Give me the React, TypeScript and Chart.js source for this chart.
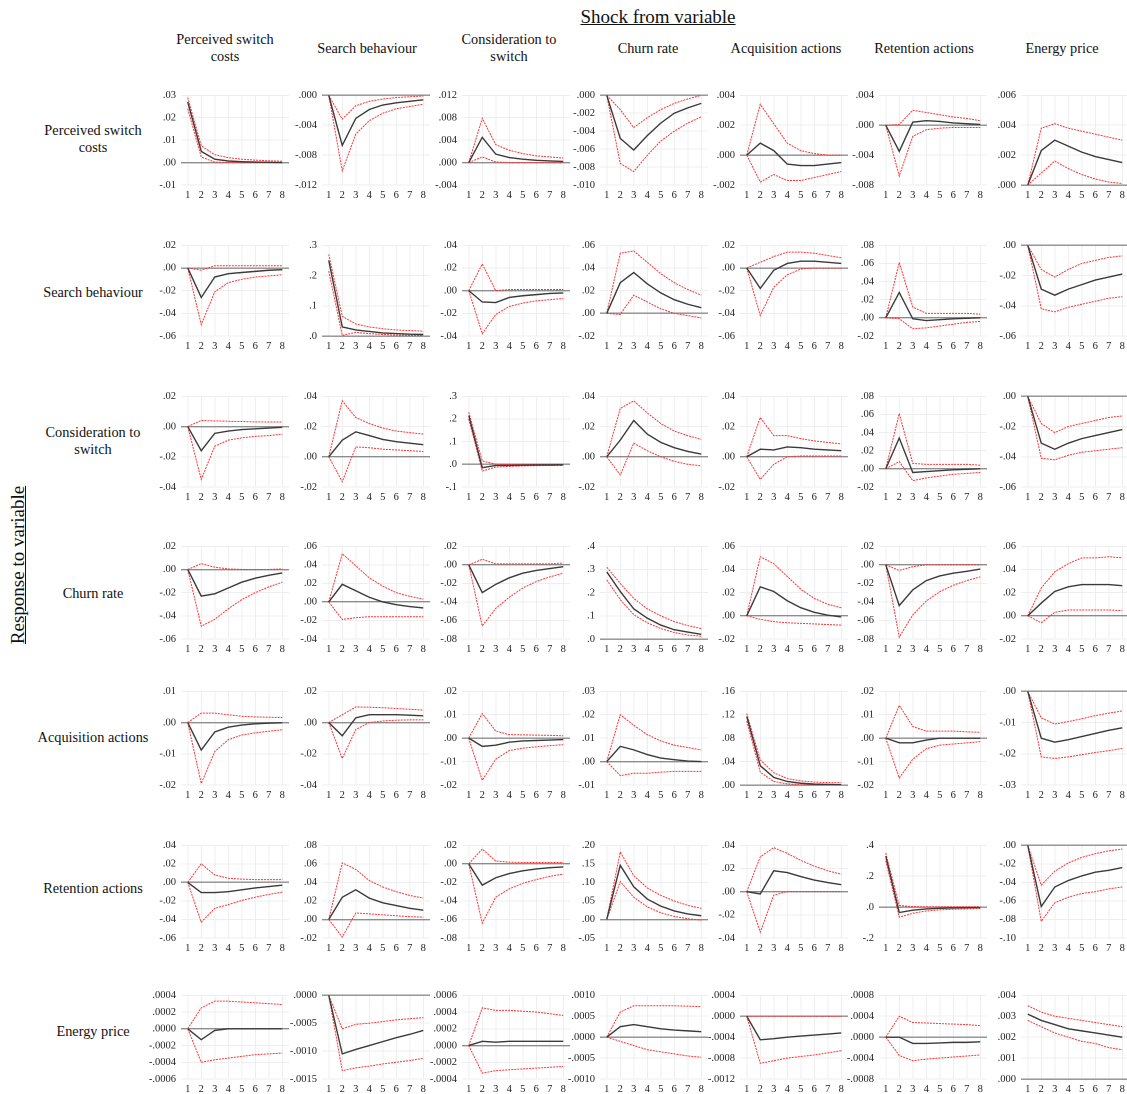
import React, { useEffect, useRef } from 'react';
import { Chart, registerables } from 'chart.js';
Chart.register(...registerables);

const periods = ['1', '2', '3', '4', '5', '6', '7', '8'];
const colHeaders = ['Perceived switch\ncosts', 'Search behaviour', 'Consideration to\nswitch', 'Churn rate', 'Acquisition actions', 'Retention actions', 'Energy price'];
const rowHeaders = ['Perceived switch\ncosts', 'Search behaviour', 'Consideration to\nswitch', 'Churn rate', 'Acquisition actions', 'Retention actions', 'Energy price'];

// axis specs per panel: [max, min, step, decimals]
const r1Axis = [[0.03, -0.01, 0.01, 2], [0, -0.012, 0.004, 3], [0.012, -0.004, 0.004, 3], [0, -0.01, 0.002, 3], [0.004, -0.002, 0.002, 3], [0.004, -0.008, 0.004, 3], [0.006, 0, 0.002, 3]];
const r2Axis = [[0.02, -0.06, 0.02, 2], [0.3, 0, 0.1, 1], [0.04, -0.04, 0.02, 2], [0.06, -0.02, 0.02, 2], [0.02, -0.06, 0.02, 2], [0.08, -0.02, 0.02, 2], [0, -0.06, 0.02, 2]];
const r3Axis = [[0.02, -0.04, 0.02, 2], [0.04, -0.02, 0.02, 2], [0.3, -0.1, 0.1, 1], [0.04, -0.02, 0.02, 2], [0.04, -0.02, 0.02, 2], [0.08, -0.02, 0.02, 2], [0, -0.06, 0.02, 2]];
const r4Axis = [[0.02, -0.06, 0.02, 2], [0.06, -0.04, 0.02, 2], [0.02, -0.08, 0.02, 2], [0.4, 0, 0.1, 1], [0.06, -0.02, 0.02, 2], [0.02, -0.08, 0.02, 2], [0.06, -0.02, 0.02, 2]];
const r5Axis = [[0.01, -0.02, 0.01, 2], [0.02, -0.04, 0.02, 2], [0.02, -0.02, 0.01, 2], [0.03, -0.01, 0.01, 2], [0.16, 0, 0.04, 2], [0.02, -0.02, 0.01, 2], [0, -0.03, 0.01, 2]];
const r6Axis = [[0.04, -0.06, 0.02, 2], [0.08, -0.02, 0.02, 2], [0.02, -0.08, 0.02, 2], [0.2, -0.05, 0.05, 2], [0.04, -0.04, 0.02, 2], [0.4, -0.2, 0.2, 1], [0, -0.1, 0.02, 2]];
const r7Axis = [[0.0004, -0.0006, 0.0002, 4], [0, -0.0015, 0.0005, 4], [0.0006, -0.0004, 0.0002, 4], [0.001, -0.001, 0.0005, 4], [0.0004, -0.0012, 0.0004, 4], [0.0008, -0.0008, 0.0004, 4], [0.004, 0, 0.001, 3]];

// Row 1: response of Perceived switch costs
const r1Irf = [
  [0.027, 0.005, 0.0015, 0.0007, 0.0004, 0.0002, 0.0001, 0.0],
  [0, -0.0067, -0.0031, -0.0019, -0.0013, -0.001, -0.0008, -0.0006],
  [0, 0.0045, 0.0015, 0.0009, 0.0006, 0.0004, 0.0003, 0.0002],
  [0, -0.0048, -0.0061, -0.0045, -0.0031, -0.002, -0.0014, -0.0009],
  [0, 0.0008, 0.0003, -0.0006, -0.0007, -0.0007, -0.0006, -0.0005],
  [0, -0.0035, 0.0004, 0.0006, 0.0005, 0.0003, 0.0002, 0.0001],
  [0, 0.0023, 0.003, 0.0026, 0.0022, 0.0019, 0.0017, 0.0015],
];
const r1Hi = [
  [0.029, 0.0075, 0.0035, 0.0022, 0.0015, 0.0011, 0.0008, 0.0006],
  [0, -0.0032, -0.0014, -0.0008, -0.0005, -0.0003, -0.0002, -0.0001],
  [0, 0.0079, 0.0032, 0.0022, 0.0016, 0.0012, 0.001, 0.0008],
  [0, -0.0016, -0.0036, -0.0025, -0.0016, -0.0009, -0.0004, 0],
  [0, 0.0034, 0.0021, 0.0008, 0.0003, 0.0001, 0, 0],
  [0, 0.0001, 0.002, 0.0017, 0.0014, 0.0011, 0.0009, 0.0006],
  [0, 0.0038, 0.0041, 0.0038, 0.0036, 0.0034, 0.0032, 0.003],
];
const r1Lo = [
  [0.024, 0.0025, 0.0002, 0, 0, 0, 0, 0],
  [0, -0.0101, -0.0052, -0.0034, -0.0024, -0.0018, -0.0015, -0.0012],
  [0, 0.001, 0.0001, 0, 0, 0, 0, 0],
  [0, -0.0076, -0.0085, -0.0067, -0.0051, -0.004, -0.0031, -0.0024],
  [0, -0.0018, -0.0013, -0.0017, -0.0017, -0.0015, -0.0013, -0.0011],
  [0, -0.0068, -0.0015, -0.0006, -0.0004, -0.0003, -0.0003, -0.0003],
  [0, 0.0008, 0.0016, 0.0011, 0.0007, 0.0004, 0.0002, 0.0001],
];

// Row 2: response of Search behaviour
const r2Irf = [
  [0, -0.026, -0.008, -0.005, -0.004, -0.003, -0.002, -0.0015],
  [0.25, 0.03, 0.02, 0.015, 0.01, 0.008, 0.006, 0.005],
  [0, -0.01, -0.0105, -0.006, -0.0045, -0.0035, -0.0025, -0.002],
  [0, 0.027, 0.036, 0.026, 0.018, 0.012, 0.008, 0.005],
  [0, -0.018, -0.002, 0.004, 0.006, 0.006, 0.005, 0.004],
  [0, 0.028, -0.001, -0.003, -0.002, -0.001, -0.0005, 0],
  [0, -0.029, -0.033, -0.029, -0.026, -0.023, -0.021, -0.019],
];
const r2Hi = [
  [0, -0.002, 0.002, 0.002, 0.002, 0.002, 0.002, 0.002],
  [0.27, 0.065, 0.04, 0.03, 0.024, 0.02, 0.018, 0.016],
  [0, 0.0235, 0, 0.001, 0.001, 0.001, 0.001, 0.001],
  [0, 0.053, 0.055, 0.045, 0.035, 0.027, 0.021, 0.016],
  [0, 0.005, 0.01, 0.014, 0.014, 0.013, 0.011, 0.009],
  [0, 0.061, 0.012, 0.005, 0.005, 0.005, 0.005, 0.004],
  [0, -0.016, -0.021, -0.016, -0.012, -0.01, -0.008, -0.007],
];
const r2Lo = [
  [0, -0.05, -0.021, -0.013, -0.01, -0.008, -0.007, -0.006],
  [0.215, 0.002, 0.012, 0.008, 0.005, 0.003, 0.002, 0.002],
  [0, -0.038, -0.021, -0.014, -0.011, -0.009, -0.008, -0.007],
  [0, -0.001, 0.016, 0.01, 0.004, 0, -0.002, -0.004],
  [0, -0.042, -0.017, -0.006, -0.001, 0, 0, 0],
  [0, -0.001, -0.012, -0.011, -0.009, -0.007, -0.005, -0.004],
  [0, -0.042, -0.044, -0.041, -0.039, -0.037, -0.035, -0.034],
];

// Row 3: response of Consideration to switch
const r3Irf = [
  [0, -0.016, -0.0045, -0.003, -0.002, -0.0015, -0.001, -0.0005],
  [0, 0.011, 0.0165, 0.014, 0.0115, 0.01, 0.009, 0.008],
  [0.215, -0.015, -0.005, -0.005, -0.004, -0.003, -0.003, -0.002],
  [0, 0.011, 0.024, 0.015, 0.0095, 0.006, 0.0035, 0.0018],
  [0, 0.005, 0.0045, 0.0065, 0.006, 0.005, 0.0045, 0.004],
  [0, 0.034, -0.004, -0.003, -0.002, -0.001, -0.0005, 0],
  [0, -0.031, -0.035, -0.031, -0.028, -0.026, -0.024, -0.022],
];
const r3Hi = [
  [0, 0.004, 0.0037, 0.0035, 0.0033, 0.0031, 0.003, 0.003],
  [0, 0.037, 0.026, 0.022, 0.019, 0.017, 0.016, 0.015],
  [0.23, 0.015, 0.001, -0.001, -0.001, -0.001, 0, 0],
  [0, 0.032, 0.037, 0.029, 0.022, 0.017, 0.014, 0.0115],
  [0, 0.026, 0.014, 0.014, 0.012, 0.0105, 0.0095, 0.0085],
  [0, 0.061, 0.006, 0.005, 0.005, 0.005, 0.005, 0.004],
  [0, -0.018, -0.024, -0.02, -0.018, -0.016, -0.014, -0.013],
];
const r3Lo = [
  [0, -0.035, -0.013, -0.009, -0.0075, -0.0065, -0.006, -0.005],
  [0, -0.0165, 0.0065, 0.006, 0.005, 0.0045, 0.004, 0.0035],
  [0.2, -0.03, -0.012, -0.009, -0.007, -0.006, -0.005, -0.005],
  [0, -0.012, 0.009, 0.004, 0, -0.003, -0.005, -0.006],
  [0, -0.015, -0.005, 0, 0.0005, 0.0005, 0.0005, 0.0005],
  [0, 0.008, -0.013, -0.01, -0.008, -0.006, -0.005, -0.004],
  [0, -0.041, -0.042, -0.039, -0.037, -0.036, -0.035, -0.034],
];

// Row 4: response of Churn rate
const r4Irf = [
  [0, -0.023, -0.021, -0.016, -0.011, -0.0075, -0.005, -0.003],
  [0, 0.019, 0.012, 0.005, 0, -0.003, -0.005, -0.0065],
  [0, -0.03, -0.021, -0.014, -0.009, -0.006, -0.004, -0.002],
  [0.29, 0.205, 0.13, 0.09, 0.06, 0.04, 0.03, 0.02],
  [0, 0.025, 0.021, 0.013, 0.007, 0.003, 0.0005, -0.001],
  [0, -0.044, -0.027, -0.017, -0.012, -0.009, -0.007, -0.0045],
  [0, 0.011, 0.021, 0.025, 0.027, 0.027, 0.027, 0.026],
];
const r4Hi = [
  [0, 0.005, 0.002, 0.0005, 0, 0, 0, 0.0005],
  [0, 0.052, 0.039, 0.026, 0.017, 0.01, 0.006, 0.003],
  [0, 0.006, 0.001, 0.001, 0.001, 0.001, 0.001, 0.002],
  [0.31, 0.24, 0.175, 0.13, 0.1, 0.075, 0.058, 0.045],
  [0, 0.051, 0.045, 0.034, 0.023, 0.015, 0.01, 0.007],
  [0, -0.006, -0.002, 0, 0, 0, 0, 0],
  [0, 0.024, 0.038, 0.045, 0.05, 0.05, 0.051, 0.05],
];
const r4Lo = [
  [0, -0.049, -0.043, -0.034, -0.026, -0.02, -0.015, -0.011],
  [0, -0.019, -0.017, -0.016, -0.016, -0.016, -0.016, -0.016],
  [0, -0.066, -0.047, -0.035, -0.025, -0.018, -0.013, -0.009],
  [0.255, 0.17, 0.105, 0.07, 0.045, 0.028, 0.017, 0.012],
  [0, -0.003, -0.005, -0.006, -0.0065, -0.007, -0.0075, -0.008],
  [0, -0.078, -0.054, -0.039, -0.029, -0.022, -0.017, -0.013],
  [0, -0.006, 0.003, 0.005, 0.005, 0.005, 0.005, 0.0045],
];

// Row 5: response of Acquisition actions
const r5Irf = [
  [0, -0.0088, -0.003, -0.0015, -0.0008, -0.0004, -0.0002, -0.0001],
  [0, -0.0085, 0.003, 0.005, 0.005, 0.005, 0.0047, 0.0043],
  [0, -0.0035, -0.003, -0.0017, -0.0012, -0.001, -0.0008, -0.0006],
  [0, 0.0065, 0.005, 0.003, 0.0015, 0.0008, 0.0002, 0],
  [0.117, 0.033, 0.013, 0.006, 0.003, 0.0015, 0.001, 0.0005],
  [0, -0.002, -0.002, -0.0008, 0, 0, 0, 0],
  [0, -0.015, -0.0163, -0.0155, -0.0145, -0.0135, -0.0125, -0.0117],
];
const r5Hi = [
  [0, 0.003, 0.003, 0.0025, 0.002, 0.0018, 0.0017, 0.0016],
  [0, 0.005, 0.01, 0.0098, 0.0095, 0.009, 0.0085, 0.008],
  [0, 0.0105, 0.003, 0.0015, 0.0014, 0.0013, 0.0012, 0.001],
  [0, 0.02, 0.0155, 0.0115, 0.0088, 0.007, 0.006, 0.005],
  [0.122, 0.043, 0.021, 0.011, 0.007, 0.005, 0.004, 0.004],
  [0, 0.014, 0.005, 0.003, 0.003, 0.003, 0.0027, 0.0025],
  [0, -0.0085, -0.0105, -0.0097, -0.0088, -0.0078, -0.007, -0.0063],
];
const r5Lo = [
  [0, -0.0195, -0.0093, -0.0055, -0.004, -0.0033, -0.0028, -0.0023],
  [0, -0.023, -0.0045, 0, 0.001, 0.0015, 0.0017, 0.0017],
  [0, -0.018, -0.009, -0.0053, -0.0043, -0.0037, -0.0032, -0.0028],
  [0, -0.006, -0.005, -0.005, -0.0045, -0.0042, -0.0042, -0.0042],
  [0.109, 0.022, 0.006, 0.002, 0.0005, 0, 0, 0],
  [0, -0.017, -0.009, -0.0045, -0.003, -0.0025, -0.002, -0.0015],
  [0, -0.021, -0.0215, -0.021, -0.0203, -0.0196, -0.019, -0.0183],
];

// Row 6: response of Retention actions
const r6Irf = [
  [0, -0.011, -0.011, -0.01, -0.008, -0.006, -0.0045, -0.003],
  [0, 0.024, 0.032, 0.023, 0.018, 0.015, 0.012, 0.01],
  [0, -0.023, -0.015, -0.0105, -0.0075, -0.0055, -0.0042, -0.0033],
  [0, 0.146, 0.088, 0.055, 0.036, 0.023, 0.015, 0.01],
  [0, -0.002, 0.018, 0.0165, 0.013, 0.01, 0.0078, 0.006],
  [0.33, -0.035, -0.02, -0.012, -0.008, -0.005, -0.004, -0.003],
  [0, -0.066, -0.045, -0.038, -0.033, -0.029, -0.027, -0.024],
];
const r6Hi = [
  [0, 0.02, 0.008, 0.0045, 0.0035, 0.003, 0.003, 0.003],
  [0, 0.061, 0.054, 0.042, 0.035, 0.03, 0.026, 0.023],
  [0, 0.016, 0.003, 0.0018, 0.0015, 0.0015, 0.0015, 0.0015],
  [0, 0.182, 0.118, 0.085, 0.065, 0.05, 0.038, 0.03],
  [0, 0.03, 0.038, 0.033, 0.027, 0.022, 0.018, 0.015],
  [0.35, 0.01, 0.003, 0.002, 0.002, 0.002, 0.002, 0.002],
  [0, -0.043, -0.028, -0.019, -0.013, -0.009, -0.006, -0.004],
];
const r6Lo = [
  [0, -0.043, -0.028, -0.024, -0.0195, -0.016, -0.013, -0.0105],
  [0, -0.019, 0.007, 0.006, 0.005, 0.004, 0.003, 0.0025],
  [0, -0.064, -0.036, -0.027, -0.021, -0.017, -0.0135, -0.011],
  [0, 0.102, 0.06, 0.034, 0.018, 0.008, 0.002, -0.002],
  [0, -0.035, -0.003, 0, 0, 0, 0, 0],
  [0.3, -0.065, -0.04, -0.025, -0.018, -0.014, -0.012, -0.01],
  [0, -0.082, -0.062, -0.056, -0.052, -0.05, -0.047, -0.045],
];

// Row 7: response of Energy price
const r7Irf = [
  [0, -0.00013, -0.00002, 0, 0, 0, 0, 0],
  [0, -0.00105, -0.00097, -0.0009, -0.00083, -0.00076, -0.0007, -0.00063],
  [0, 0.00005, 0.00004, 0.00005, 0.00005, 0.00005, 0.00005, 0.00005],
  [0, 0.00025, 0.0003, 0.00025, 0.0002, 0.00017, 0.00015, 0.00013],
  [0, -0.00045, -0.00043, -0.0004, -0.00038, -0.00036, -0.00034, -0.00032],
  [0, 0, -0.00012, -0.00012, -0.00011, -0.0001, -0.0001, -0.00009],
  [0.0031, 0.0028, 0.0026, 0.0024, 0.0023, 0.0022, 0.0021, 0.002],
];
const r7Hi = [
  [0, 0.00025, 0.00033, 0.00033, 0.00032, 0.00031, 0.0003, 0.00029],
  [0, -0.0006, -0.00052, -0.0005, -0.00047, -0.00044, -0.00042, -0.0004],
  [0, 0.00045, 0.00042, 0.00042, 0.00041, 0.0004, 0.00038, 0.00036],
  [0, 0.0006, 0.00075, 0.00075, 0.00075, 0.00075, 0.00074, 0.00073],
  [0, 0, 0, 0, 0, 0, 0, 0],
  [0, 0.0004, 0.00028, 0.00027, 0.00026, 0.00025, 0.00024, 0.00022],
  [0.0035, 0.0032, 0.003, 0.0029, 0.0028, 0.0027, 0.0026, 0.0025],
];
const r7Lo = [
  [0, -0.0004, -0.00037, -0.00035, -0.00033, -0.00031, -0.0003, -0.00029],
  [0, -0.00135, -0.0013, -0.00127, -0.00123, -0.0012, -0.00117, -0.00113],
  [0, -0.00033, -0.0003, -0.00029, -0.00028, -0.00027, -0.00026, -0.00025],
  [0, -0.0001, -0.0002, -0.0003, -0.00035, -0.0004, -0.00045, -0.00048],
  [0, -0.0009, -0.00085, -0.0008, -0.00077, -0.00074, -0.0007, -0.00066],
  [0, -0.00035, -0.00045, -0.00042, -0.0004, -0.00038, -0.00036, -0.00034],
  [0.0028, 0.0025, 0.0022, 0.002, 0.0018, 0.0017, 0.0015, 0.0014],
];

const axisRows = [r1Axis, r2Axis, r3Axis, r4Axis, r5Axis, r6Axis, r7Axis];
const irfRows = [r1Irf, r2Irf, r3Irf, r4Irf, r5Irf, r6Irf, r7Irf];
const hiRows = [r1Hi, r2Hi, r3Hi, r4Hi, r5Hi, r6Hi, r7Hi];
const loRows = [r1Lo, r2Lo, r3Lo, r4Lo, r5Lo, r6Lo, r7Lo];

// layout (pixels)
const colLeft = [181, 322, 462, 600, 740, 879, 1021];
const colCenter = [225, 367, 509, 648, 786, 924, 1062];
const plotW = 108;
const rowTop = [92, 242, 393, 543, 688, 842, 992];
const rowH = [93, 94, 94, 96, 97, 96, 87];
const rowLabelY = [139, 292, 441, 593, 737, 888, 1031];
const AXW = 40;
const PADT = 8;
const PADR = 8;
const XAH = 20;
const FONT = '"Liberation Serif", "Times New Roman", serif';

function fmt(v: number, d: number) {
  const s = Math.abs(v).toFixed(d).replace(/^0/, '');
  return (v < -1e-12 ? '-' : '') + s;
}

function Panel({ r, c }: { r: number; c: number }) {
  const ref = useRef<HTMLCanvasElement | null>(null);
  const w = AXW + plotW + PADR;
  const h = PADT + rowH[r] + XAH;
  useEffect(() => {
    const [max, min, step, dec] = axisRows[r][c];
    const n = Math.round((max - min) / step);
    const tickVals: number[] = [];
    for (let i = 0; i <= n; i++) tickVals.push(Number((min + i * step).toFixed(10)));
    const chart = new Chart(ref.current as HTMLCanvasElement, {
      type: 'line',
      data: {
        labels: periods,
        datasets: [
          { data: irfRows[r][c], borderColor: '#3a3a3a', borderWidth: 1.4, pointRadius: 0, tension: 0, fill: false },
          { data: hiRows[r][c], borderColor: '#ff3333', borderWidth: 1, borderDash: [2, 1], pointRadius: 0, tension: 0, fill: false },
          { data: loRows[r][c], borderColor: '#ff3333', borderWidth: 1, borderDash: [2, 1], pointRadius: 0, tension: 0, fill: false },
        ],
      },
      options: {
        animation: false,
        responsive: false,
        devicePixelRatio: 2,
        layout: { padding: { top: PADT, right: PADR, left: 0, bottom: 0 } },
        plugins: { legend: { display: false }, tooltip: { enabled: false }, title: { display: false } },
        scales: {
          x: {
            type: 'category',
            offset: true,
            grid: { display: true, offset: false, drawTicks: false, color: '#eeeeee', lineWidth: 1 },
            border: { display: false },
            ticks: { color: '#222', font: { family: FONT, size: 10.5 }, padding: 4, maxRotation: 0, autoSkip: false },
            afterFit: (s: any) => { s.height = XAH; },
          },
          y: {
            min,
            max,
            grid: {
              drawTicks: false,
              color: (ctx: any) => (ctx.tick && Math.abs(ctx.tick.value) < 1e-12 ? '#8c8c8c' : '#eeeeee'),
              lineWidth: (ctx: any) => (ctx.tick && Math.abs(ctx.tick.value) < 1e-12 ? 1.4 : 1),
            },
            border: { display: false },
            afterBuildTicks: (s: any) => { s.ticks = tickVals.map((v) => ({ value: v })); },
            ticks: {
              color: '#222',
              font: { family: FONT, size: 10.5 },
              padding: 5,
              callback: (v: any) => fmt(Number(v), dec),
            },
            afterFit: (s: any) => { s.width = AXW; },
          },
        },
      },
    } as any);
    return () => chart.destroy();
  }, [r, c]);
  return (
    <canvas
      ref={ref}
      width={w}
      height={h}
      style={{ position: 'absolute', left: colLeft[c] - AXW, top: rowTop[r] - PADT, width: w, height: h }}
    />
  );
}

const textBase: React.CSSProperties = {
  position: 'absolute',
  fontFamily: FONT,
  color: '#111',
  whiteSpace: 'pre-line',
  textAlign: 'center',
  transform: 'translate(-50%, -50%)',
};

export default function App() {
  const panels: React.ReactNode[] = [];
  for (let r = 0; r < 7; r++) for (let c = 0; c < 7; c++) panels.push(<Panel key={`${r}-${c}`} r={r} c={c} />);
  return (
    <div style={{ position: 'absolute', left: 0, top: 0, width: 1127, height: 1094, background: '#fff', overflow: 'hidden' }}>
      <div style={{ ...textBase, left: 658, top: 17, fontSize: 19, textDecoration: 'underline', whiteSpace: 'nowrap' }}>Shock from variable</div>
      <div
        style={{
          ...textBase,
          left: 18,
          top: 565,
          fontSize: 19,
          textDecoration: 'underline',
          whiteSpace: 'nowrap',
          transform: 'translate(-50%, -50%) rotate(-90deg)',
        }}
      >
        Response to variable
      </div>
      {colHeaders.map((t, i) => (
        <div key={'ch' + i} style={{ ...textBase, left: colCenter[i], top: 48, fontSize: 14.3, lineHeight: '17px', whiteSpace: 'pre' }}>{t}</div>
      ))}
      {rowHeaders.map((t, i) => (
        <div key={'rh' + i} style={{ ...textBase, left: 93, top: rowLabelY[i], fontSize: 14.3, lineHeight: '17px', whiteSpace: 'pre' }}>{t}</div>
      ))}
      {panels}
    </div>
  );
}
